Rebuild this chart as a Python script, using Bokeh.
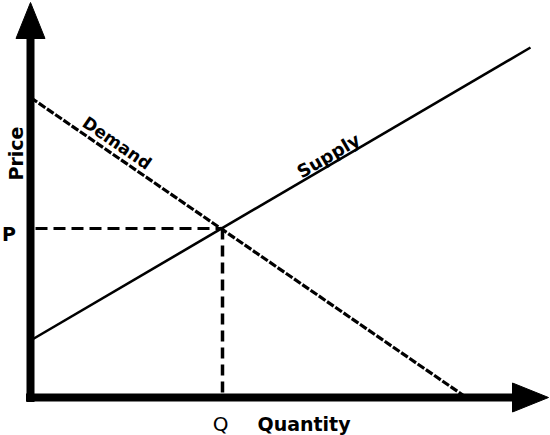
from bokeh.plotting import figure
from bokeh.models import Range1d, Label
from bokeh.embed import file_html
from bokeh.resources import INLINE
import math

# ---- data (quantity / price units) ----
demand_q = [0.0, 86.6]
demand_p = [60.0, 0.4]
supply_q = [0.0, 100.0]
supply_p = [11.4, 70.0]
eq_q = 38.4
eq_p = 33.8

x_axis_end = 103.6   # tip of quantity arrow
y_axis_end = 79.0    # tip of price arrow

axis_labels = {"x": "Quantity", "y": "Price"}
curve_labels = ["Demand", "Supply"]
eq_labels = ["P", "Q"]

FONT = "DejaVu Sans"

p = figure(width=550, height=435, x_range=Range1d(-6.0, 104.0), y_range=Range1d(-7.6, 79.4),
           x_axis_type=None, y_axis_type=None, output_backend="svg", toolbar_location=None,
           min_border=0, min_border_left=0, min_border_right=0, min_border_top=0, min_border_bottom=0)
p.grid.visible = False
p.outline_line_color = None
p.background_fill_color = "white"
p.border_fill_color = "white"

# equilibrium guide lines
p.line([1.0, eq_q], [eq_p, eq_p], line_color="black", line_width=3, line_dash="12 6")
p.line([eq_q, eq_q], [eq_p, 0], line_color="black", line_width=3.5, line_dash="11 6")

# supply and demand
p.line(supply_q, supply_p, line_color="black", line_width=2.6)
p.line(demand_q, demand_p, line_color="black", line_width=3.2, line_dash="8 2")

# axes bodies
head_len = 7.2
head_half = 2.9
p.segment(x0=[0, -0.9], y0=[-0.9, 0], x1=[0, x_axis_end - head_len + 0.3], y1=[y_axis_end - head_len + 0.3, 0],
          line_color="black", line_width=8, line_cap="butt")
# arrow heads
p.patches(xs=[[0, -head_half, head_half], [x_axis_end, x_axis_end - head_len, x_axis_end - head_len]],
          ys=[[y_axis_end, y_axis_end - head_len, y_axis_end - head_len], [0, head_half, -head_half]],
          fill_color="black", line_color="black", line_width=1)

# labels
p.add_layout(Label(x=-3.0, y=48.8, text=axis_labels["y"], angle=math.pi / 2, text_align="center",
                   text_baseline="alphabetic", text_font=FONT, text_font_style="bold",
                   text_font_size="19px", text_color="black"))
p.add_layout(Label(x=45.4, y=-5.2, text=axis_labels["x"], text_align="left",
                   text_baseline="alphabetic", text_font=FONT, text_font_style="bold",
                   text_font_size="19px", text_color="black"))
p.add_layout(Label(x=-5.7, y=eq_p - 1.1, text=eq_labels[0], text_align="left",
                   text_baseline="alphabetic", text_font=FONT, text_font_style="bold",
                   text_font_size="19px", text_color="black"))
p.add_layout(Label(x=eq_q - 0.4, y=-5.2, text=eq_labels[1], text_align="center",
                   text_baseline="alphabetic", text_font=FONT, text_font_style="normal",
                   text_font_size="20px", text_color="black"))

d_ang = math.atan2(demand_p[1] - demand_p[0], demand_q[1] - demand_q[0])
s_ang = math.atan2(supply_p[1] - supply_p[0], supply_q[1] - supply_q[0])
p.add_layout(Label(x=17.3, y=50.9, text=curve_labels[0], angle=d_ang, text_align="center",
                   text_baseline="alphabetic", text_font=FONT, text_font_style="bold",
                   text_font_size="17px", text_color="black"))
p.add_layout(Label(x=59.6, y=48.4, text=curve_labels[1], angle=s_ang, text_align="center",
                   text_baseline="alphabetic", text_font=FONT, text_font_style="bold",
                   text_font_size="18px", text_color="black"))

open("out.html", "w").write(file_html(p, INLINE))
